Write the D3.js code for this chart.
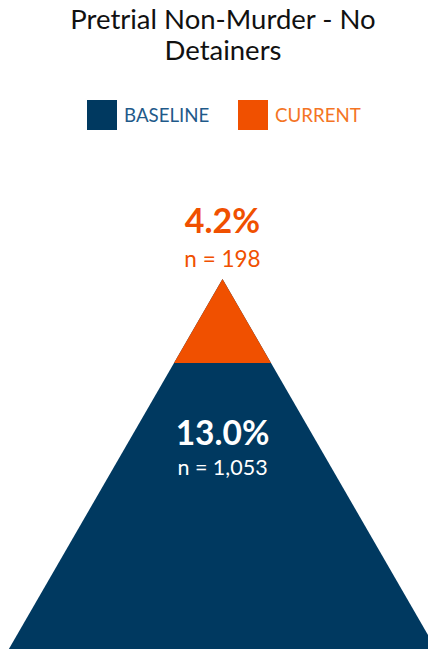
<!DOCTYPE html>
<html><head><meta charset="utf-8">
<script src="https://cdn.jsdelivr.net/npm/d3@7"></script>
<style>html,body{margin:0;padding:0;background:#fff;overflow:hidden}svg{display:block}</style>
</head><body>
<script>
const titleLines = ["Pretrial Non-Murder - No", "Detainers"];
const seriesNames = ["BASELINE", "CURRENT"];
const seriesColors = ["#003960", "#f05000"];
const legendTextColors = ["#1f5a8a", "#f47424"];
const rates = [13.0, 4.2];           // baseline, current (%)
const counts = [1053, 198];

const W = 428, H = 649;
const svg = d3.select("body").append("svg").attr("width", W).attr("height", H);
const font = "Lato, 'Open Sans', sans-serif";

// title
svg.append("g").selectAll("text").data(titleLines).join("text")
  .attr("x", 223).attr("y", (d, i) => 29 + i * 31)
  .attr("text-anchor", "middle").attr("font-family", font)
  .attr("font-size", 27.5).attr("fill", "#111").text(d => d);

// legend
const legX = [87, 238];
const leg = svg.append("g").selectAll("g").data(seriesNames).join("g")
  .attr("transform", (d, i) => `translate(${legX[i]},100)`);
leg.append("rect").attr("width", 30).attr("height", 30).attr("fill", (d, i) => seriesColors[i]);
leg.append("text").attr("x", 37).attr("y", 22).attr("font-family", font)
  .attr("font-size", 18.7).attr("fill", (d, i) => legendTextColors[i]).text(d => d);

// pyramid
const cx = 222.5, apexY = 279, slope = Math.tan(Math.PI / 6);
const hScale = d3.scaleLinear().domain([0, 20]).range([0, 400]);
const splitY = apexY + hScale(rates[1]);
const bottomY = apexY + hScale(20);
const halfW = y => (y - apexY) * slope;

svg.append("path").attr("fill", seriesColors[0])
  .attr("d", d3.line()([[cx, apexY], [cx + halfW(bottomY), bottomY], [cx - halfW(bottomY), bottomY]]) + "Z");
svg.append("path").attr("fill", seriesColors[1])
  .attr("d", d3.line()([[cx, apexY], [cx + halfW(splitY), splitY], [cx - halfW(splitY), splitY]]) + "Z");

const fmt = d3.format(".1f"), nfmt = d3.format(",");
svg.append("text").attr("x", cx).attr("y", 233).attr("text-anchor", "middle")
  .attr("font-family", font).attr("font-weight", 700).attr("font-size", 34)
  .attr("fill", seriesColors[1]).text(fmt(rates[1]) + "%");
svg.append("text").attr("x", cx).attr("y", 267).attr("text-anchor", "middle")
  .attr("font-family", font).attr("font-weight", 400).attr("font-size", 22.5)
  .attr("fill", seriesColors[1]).text("n = " + nfmt(counts[1]));
svg.append("text").attr("x", cx).attr("y", 445).attr("text-anchor", "middle")
  .attr("font-family", font).attr("font-weight", 700).attr("font-size", 33.5)
  .attr("fill", "#fff").text(fmt(rates[0]) + "%");
svg.append("text").attr("x", cx).attr("y", 475).attr("text-anchor", "middle")
  .attr("font-family", font).attr("font-weight", 400).attr("font-size", 21.5)
  .attr("fill", "#fff").text("n = " + nfmt(counts[0]));
</script>
</body></html>
